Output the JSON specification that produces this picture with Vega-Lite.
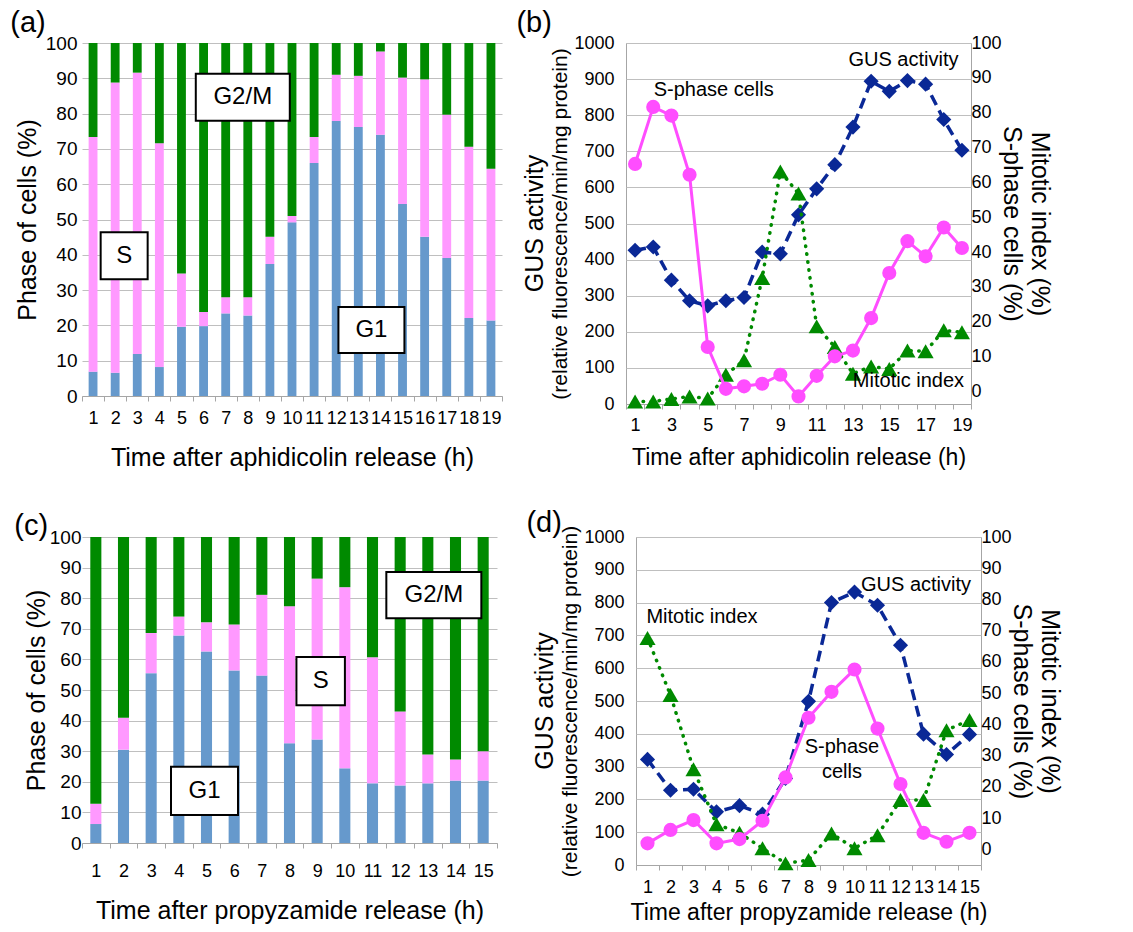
{
"$schema": "https://vega.github.io/schema/vega-lite/v6.json",
"padding": {"left": 10, "top": 8, "right": 5, "bottom": 5},
"config": {
  "font": "Liberation Sans",
  "view": {"stroke": null},
  "axis": {"labelFont": "Liberation Sans", "titleFont": "Liberation Sans", "labelColor": "black", "titleColor": "black", "titleFontWeight": "normal", "gridColor": "#BFBFBF", "domainColor": "#A6A6A6", "tickColor": "#A6A6A6"},
  "title": {"font": "Liberation Sans", "fontWeight": "normal", "color": "black"},
  "text": {"font": "Liberation Sans"}
},
"vconcat": [
 {"hconcat": [
  {
   "title": {"text": "(a)", "anchor": "start", "frame": "bounds", "fontSize": 29, "offset": 0, "dy": 4, "dx": -5},
   "width": 420, "height": 353,
   "data": {"values": [
    {"hour":1,"phase":"G1","seq":1,"pct":6.9},{"hour":1,"phase":"S","seq":2,"pct":66.5},{"hour":1,"phase":"G2/M","seq":3,"pct":26.6},
    {"hour":2,"phase":"G1","seq":1,"pct":6.6},{"hour":2,"phase":"S","seq":2,"pct":82.2},{"hour":2,"phase":"G2/M","seq":3,"pct":11.2},
    {"hour":3,"phase":"G1","seq":1,"pct":11.9},{"hour":3,"phase":"S","seq":2,"pct":79.7},{"hour":3,"phase":"G2/M","seq":3,"pct":8.4},
    {"hour":4,"phase":"G1","seq":1,"pct":8.2},{"hour":4,"phase":"S","seq":2,"pct":63.4},{"hour":4,"phase":"G2/M","seq":3,"pct":28.4},
    {"hour":5,"phase":"G1","seq":1,"pct":19.6},{"hour":5,"phase":"S","seq":2,"pct":15.1},{"hour":5,"phase":"G2/M","seq":3,"pct":65.3},
    {"hour":6,"phase":"G1","seq":1,"pct":19.8},{"hour":6,"phase":"S","seq":2,"pct":4.0},{"hour":6,"phase":"G2/M","seq":3,"pct":76.2},
    {"hour":7,"phase":"G1","seq":1,"pct":23.4},{"hour":7,"phase":"S","seq":2,"pct":4.6},{"hour":7,"phase":"G2/M","seq":3,"pct":72.0},
    {"hour":8,"phase":"G1","seq":1,"pct":22.8},{"hour":8,"phase":"S","seq":2,"pct":5.2},{"hour":8,"phase":"G2/M","seq":3,"pct":72.0},
    {"hour":9,"phase":"G1","seq":1,"pct":37.4},{"hour":9,"phase":"S","seq":2,"pct":7.7},{"hour":9,"phase":"G2/M","seq":3,"pct":54.9},
    {"hour":10,"phase":"G1","seq":1,"pct":49.2},{"hour":10,"phase":"S","seq":2,"pct":1.8},{"hour":10,"phase":"G2/M","seq":3,"pct":49.0},
    {"hour":11,"phase":"G1","seq":1,"pct":66.0},{"hour":11,"phase":"S","seq":2,"pct":7.4},{"hour":11,"phase":"G2/M","seq":3,"pct":26.6},
    {"hour":12,"phase":"G1","seq":1,"pct":77.9},{"hour":12,"phase":"S","seq":2,"pct":13.1},{"hour":12,"phase":"G2/M","seq":3,"pct":9.0},
    {"hour":13,"phase":"G1","seq":1,"pct":76.2},{"hour":13,"phase":"S","seq":2,"pct":14.5},{"hour":13,"phase":"G2/M","seq":3,"pct":9.3},
    {"hour":14,"phase":"G1","seq":1,"pct":74.0},{"hour":14,"phase":"S","seq":2,"pct":23.6},{"hour":14,"phase":"G2/M","seq":3,"pct":2.4},
    {"hour":15,"phase":"G1","seq":1,"pct":54.4},{"hour":15,"phase":"S","seq":2,"pct":35.8},{"hour":15,"phase":"G2/M","seq":3,"pct":9.8},
    {"hour":16,"phase":"G1","seq":1,"pct":45.1},{"hour":16,"phase":"S","seq":2,"pct":44.6},{"hour":16,"phase":"G2/M","seq":3,"pct":10.3},
    {"hour":17,"phase":"G1","seq":1,"pct":39.1},{"hour":17,"phase":"S","seq":2,"pct":40.6},{"hour":17,"phase":"G2/M","seq":3,"pct":20.3},
    {"hour":18,"phase":"G1","seq":1,"pct":22.1},{"hour":18,"phase":"S","seq":2,"pct":48.5},{"hour":18,"phase":"G2/M","seq":3,"pct":29.4},
    {"hour":19,"phase":"G1","seq":1,"pct":21.4},{"hour":19,"phase":"S","seq":2,"pct":43.0},{"hour":19,"phase":"G2/M","seq":3,"pct":35.6}
   ]},
   "encoding": {
    "x": {"field": "hour", "type": "ordinal", "scale": {"type": "band", "paddingInner": 0, "paddingOuter": 0, "domain": [1,2,3,4,5,6,7,8,9,10,11,12,13,14,15,16,17,18,19]},
          "axis": {"title": "Time after aphidicolin release (h)", "titleFontSize": 25, "labelFontSize": 18, "labelAngle": 0, "tickBand": "extent", "tickSize": 5, "labelPadding": 8, "titlePadding": 18, "grid": false}}
   },
   "layer": [
    {"mark": {"type": "bar", "width": {"band": 0.4}},
     "encoding": {
      "y": {"field": "pct", "type": "quantitative", "stack": "zero", "scale": {"domain": [0, 100], "nice": false},
            "axis": {"title": "Phase of cells (%)", "values": [0,10,20,30,40,50,60,70,80,90,100], "titleFontSize": 25, "labelFontSize": 19, "ticks": false, "domain": false, "labelPadding": 5, "titlePadding": 5, "grid": true}},
      "color": {"field": "phase", "type": "nominal", "scale": {"domain": ["G1", "S", "G2/M"], "range": ["#6699CC", "#FF99FF", "#008A00"]}, "legend": null},
      "order": {"field": "seq", "type": "quantitative", "sort": "ascending"}
     }},
    {"data": {"values": [{"label": "G2/M", "hour": 8, "pct": 84.6}]},
     "layer": [
      {"mark": {"type": "point", "shape": "M-1,-0.5H1V0.5H-1Z", "size": 8836, "filled": true, "fill": "white", "opacity": 1, "stroke": "black", "strokeWidth": 2, "xOffset": -5}},
      {"mark": {"type": "text", "fontSize": 24, "xOffset": -5}, "encoding": {"text": {"field": "label"}}}
     ],
     "encoding": {"x": {"field": "hour", "type": "ordinal", "bandPosition": 0.5}, "y": {"field": "pct", "type": "quantitative",
       "axis": {"title": "Phase of cells (%)", "values": [0,10,20,30,40,50,60,70,80,90,100], "titleFontSize": 25, "labelFontSize": 19, "ticks": false, "domain": false, "labelPadding": 5, "titlePadding": 5, "grid": true}}}},
    {"data": {"values": [{"label": "S", "hour": 2, "pct": 39.7}]},
     "layer": [
      {"mark": {"type": "point", "shape": "square", "size": 2209, "filled": true, "fill": "white", "opacity": 1, "stroke": "black", "strokeWidth": 2, "xOffset": 9}},
      {"mark": {"type": "text", "fontSize": 24, "xOffset": 9}, "encoding": {"text": {"field": "label"}}}
     ],
     "encoding": {"x": {"field": "hour", "type": "ordinal", "bandPosition": 0.5}, "y": {"field": "pct", "type": "quantitative",
       "axis": {"title": "Phase of cells (%)", "values": [0,10,20,30,40,50,60,70,80,90,100], "titleFontSize": 25, "labelFontSize": 19, "ticks": false, "domain": false, "labelPadding": 5, "titlePadding": 5, "grid": true}}}},
    {"data": {"values": [{"label": "G1", "hour": 14, "pct": 18.7}]},
     "layer": [
      {"mark": {"type": "point", "shape": "M-1,-0.7H1V0.7H-1Z", "size": 4356, "filled": true, "fill": "white", "opacity": 1, "stroke": "black", "strokeWidth": 2, "xOffset": -9}},
      {"mark": {"type": "text", "fontSize": 24, "xOffset": -9}, "encoding": {"text": {"field": "label"}}}
     ],
     "encoding": {"x": {"field": "hour", "type": "ordinal", "bandPosition": 0.5}, "y": {"field": "pct", "type": "quantitative",
       "axis": {"title": "Phase of cells (%)", "values": [0,10,20,30,40,50,60,70,80,90,100], "titleFontSize": 25, "labelFontSize": 19, "ticks": false, "domain": false, "labelPadding": 5, "titlePadding": 5, "grid": true}}}}
   ]
  },
  {
   "title": {"text": "(b)", "anchor": "start", "frame": "bounds", "fontSize": 29, "offset": 0, "dy": 4, "dx": -6},
   "vconcat": [{
    "width": 345, "height": 361,
    "title": {"text": "GUS activity", "orient": "left", "fontSize": 25, "offset": 2},
    "view": {"stroke": "#A6A6A6"},
    "data": {"values": [
     {"hour":1,"gus":426,"sphase":66.5,"mitotic":0.7},
     {"hour":2,"gus":435,"sphase":82.3,"mitotic":0.7},
     {"hour":3,"gus":343,"sphase":79.9,"mitotic":1.4},
     {"hour":4,"gus":286,"sphase":63.5,"mitotic":2.1},
     {"hour":5,"gus":272,"sphase":15.8,"mitotic":1.5},
     {"hour":6,"gus":286,"sphase":4.2,"mitotic":8.1},
     {"hour":7,"gus":295,"sphase":4.9,"mitotic":12.1},
     {"hour":8,"gus":421,"sphase":5.6,"mitotic":34.9},
     {"hour":9,"gus":416,"sphase":8.1,"mitotic":64.4},
     {"hour":10,"gus":524,"sphase":2.1,"mitotic":58.3},
     {"hour":11,"gus":596,"sphase":7.8,"mitotic":21.5},
     {"hour":12,"gus":663,"sphase":13.2,"mitotic":15.8},
     {"hour":13,"gus":767,"sphase":14.8,"mitotic":8.4},
     {"hour":14,"gus":894,"sphase":23.8,"mitotic":10.4},
     {"hour":15,"gus":866,"sphase":36.3,"mitotic":9.7},
     {"hour":16,"gus":896,"sphase":45.1,"mitotic":14.8},
     {"hour":17,"gus":886,"sphase":40.9,"mitotic":14.6},
     {"hour":18,"gus":788,"sphase":48.9,"mitotic":20.4},
     {"hour":19,"gus":703,"sphase":43.2,"mitotic":19.9}
    ]},
    "encoding": {
     "x": {"field": "hour", "type": "ordinal", "bandPosition": 0.5, "scale": {"type": "band", "paddingInner": 0, "paddingOuter": 0, "domain": [1,2,3,4,5,6,7,8,9,10,11,12,13,14,15,16,17,18,19]},
           "axis": {"title": "Time after aphidicolin release (h)", "titleFontSize": 23, "labelFontSize": 18, "labelAngle": 0, "tickBand": "extent", "tickSize": 5, "labelPadding": 7, "titlePadding": 12, "grid": false, "labelExpr": "datum.value % 2 == 1 ? datum.label : ''"}}
    },
    "layer": [
     {"layer": [
       {"mark": {"type": "line", "color": "#0A2896", "strokeWidth": 3.5, "strokeDash": [11, 6], "point": {"shape": "diamond", "size": 230, "filled": true, "opacity": 1, "color": "#0A2896"}},
        "encoding": {"y": {"field": "gus", "type": "quantitative", "scale": {"domain": [0, 1000], "nice": false},
          "axis": {"title": "(relative fluorescence/min/mg protein)", "titleFontSize": 21, "labelFontSize": 18, "format": "d", "values": [0,100,200,300,400,500,600,700,800,900,1000], "ticks": false, "domain": false, "labelPadding": 12, "titlePadding": 3, "grid": true}}}},
       {"data": {"values": [{"label": "S-phase cells", "hour": 5, "gus": 870}]},
        "mark": {"type": "text", "fontSize": 20, "xOffset": 6},
        "encoding": {"y": {"field": "gus", "type": "quantitative",
          "axis": {"title": "(relative fluorescence/min/mg protein)", "titleFontSize": 21, "labelFontSize": 18, "format": "d", "values": [0,100,200,300,400,500,600,700,800,900,1000], "ticks": false, "domain": false, "labelPadding": 12, "titlePadding": 3, "grid": true}}, "text": {"field": "label"}}},
       {"data": {"values": [{"label": "GUS activity", "hour": 16, "gus": 953}]},
        "mark": {"type": "text", "fontSize": 20, "xOffset": -4},
        "encoding": {"y": {"field": "gus", "type": "quantitative",
          "axis": {"title": "(relative fluorescence/min/mg protein)", "titleFontSize": 21, "labelFontSize": 18, "format": "d", "values": [0,100,200,300,400,500,600,700,800,900,1000], "ticks": false, "domain": false, "labelPadding": 12, "titlePadding": 3, "grid": true}}, "text": {"field": "label"}}}
     ]},
     {"layer": [
       {"mark": {"type": "line", "color": "#008A00", "strokeWidth": 3.5, "strokeDash": [0.5, 7.5], "strokeCap": "round", "point": {"shape": "triangle-up", "size": 260, "filled": true, "opacity": 1, "color": "#008A00"}},
        "encoding": {"y": {"field": "mitotic", "type": "quantitative", "scale": {"domain": [0, 100], "nice": false}, "axis": null}}},
       {"mark": {"type": "line", "color": "#FF4DFF", "strokeWidth": 3, "point": {"shape": "circle", "size": 200, "filled": true, "opacity": 1, "color": "#FF4DFF"}},
        "encoding": {"y": {"field": "sphase", "type": "quantitative", "scale": {"domain": [0, 100], "nice": false}, "axis": null}}},
       {"data": {"values": [{"label": "Mitotic index", "hour": 16, "mitotic": 6.4}]},
        "mark": {"type": "text", "fontSize": 20, "xOffset": 1},
        "encoding": {"y": {"field": "mitotic", "type": "quantitative", "axis": null}, "text": {"field": "label"}}}
     ]},
     {"mark": {"type": "point", "opacity": 0},
      "encoding": {"y": {"datum": 0, "type": "quantitative", "scale": {"domain": [-3.6, 100], "nice": false, "zero": false},
        "axis": {"orient": "right", "title": ["Mitotic index (%)", "S-phase cells (%)"], "titleFontSize": 25, "titleLineHeight": 28, "labelFontSize": 18, "values": [0,10,20,30,40,50,60,70,80,90,100], "ticks": false, "domain": false, "grid": false, "labelPadding": 0, "titlePadding": -3}}}}
    ],
    "resolve": {"scale": {"y": "independent"}}
   }]
  }
 ], "spacing": 13},
 {"hconcat": [
  {
   "title": {"text": "(c)", "anchor": "start", "frame": "bounds", "fontSize": 29, "offset": 0, "dy": 13, "dx": -10},
   "width": 415, "height": 306,
   "data": {"values": [
    {"hour":1,"phase":"G1","seq":1,"pct":6.2},{"hour":1,"phase":"S","seq":2,"pct":6.6},{"hour":1,"phase":"G2/M","seq":3,"pct":87.2},
    {"hour":2,"phase":"G1","seq":1,"pct":30.5},{"hour":2,"phase":"S","seq":2,"pct":10.4},{"hour":2,"phase":"G2/M","seq":3,"pct":59.1},
    {"hour":3,"phase":"G1","seq":1,"pct":55.5},{"hour":3,"phase":"S","seq":2,"pct":13.1},{"hour":3,"phase":"G2/M","seq":3,"pct":31.4},
    {"hour":4,"phase":"G1","seq":1,"pct":67.8},{"hour":4,"phase":"S","seq":2,"pct":6.2},{"hour":4,"phase":"G2/M","seq":3,"pct":26.0},
    {"hour":5,"phase":"G1","seq":1,"pct":62.6},{"hour":5,"phase":"S","seq":2,"pct":9.5},{"hour":5,"phase":"G2/M","seq":3,"pct":27.9},
    {"hour":6,"phase":"G1","seq":1,"pct":56.4},{"hour":6,"phase":"S","seq":2,"pct":15.0},{"hour":6,"phase":"G2/M","seq":3,"pct":28.6},
    {"hour":7,"phase":"G1","seq":1,"pct":54.7},{"hour":7,"phase":"S","seq":2,"pct":26.4},{"hour":7,"phase":"G2/M","seq":3,"pct":18.9},
    {"hour":8,"phase":"G1","seq":1,"pct":32.6},{"hour":8,"phase":"S","seq":2,"pct":44.8},{"hour":8,"phase":"G2/M","seq":3,"pct":22.6},
    {"hour":9,"phase":"G1","seq":1,"pct":33.8},{"hour":9,"phase":"S","seq":2,"pct":52.6},{"hour":9,"phase":"G2/M","seq":3,"pct":13.6},
    {"hour":10,"phase":"G1","seq":1,"pct":24.4},{"hour":10,"phase":"S","seq":2,"pct":59.2},{"hour":10,"phase":"G2/M","seq":3,"pct":16.4},
    {"hour":11,"phase":"G1","seq":1,"pct":19.5},{"hour":11,"phase":"S","seq":2,"pct":41.2},{"hour":11,"phase":"G2/M","seq":3,"pct":39.3},
    {"hour":12,"phase":"G1","seq":1,"pct":18.8},{"hour":12,"phase":"S","seq":2,"pct":24.2},{"hour":12,"phase":"G2/M","seq":3,"pct":57.0},
    {"hour":13,"phase":"G1","seq":1,"pct":19.5},{"hour":13,"phase":"S","seq":2,"pct":9.4},{"hour":13,"phase":"G2/M","seq":3,"pct":71.1},
    {"hour":14,"phase":"G1","seq":1,"pct":20.4},{"hour":14,"phase":"S","seq":2,"pct":6.9},{"hour":14,"phase":"G2/M","seq":3,"pct":72.7},
    {"hour":15,"phase":"G1","seq":1,"pct":20.4},{"hour":15,"phase":"S","seq":2,"pct":9.6},{"hour":15,"phase":"G2/M","seq":3,"pct":70.0}
   ]},
   "encoding": {
    "x": {"field": "hour", "type": "ordinal", "scale": {"type": "band", "paddingInner": 0, "paddingOuter": 0, "domain": [1,2,3,4,5,6,7,8,9,10,11,12,13,14,15]},
          "axis": {"title": "Time after propyzamide release (h)", "titleFontSize": 25, "labelFontSize": 18, "labelAngle": 0, "tickBand": "extent", "tickSize": 5, "labelPadding": 14, "titlePadding": 18, "grid": false}}
   },
   "layer": [
    {"mark": {"type": "bar", "width": {"band": 0.4}},
     "encoding": {
      "y": {"field": "pct", "type": "quantitative", "stack": "zero", "scale": {"domain": [0, 100], "nice": false},
            "axis": {"title": "Phase of cells (%)", "values": [0,10,20,30,40,50,60,70,80,90,100], "titleFontSize": 25, "labelFontSize": 19, "ticks": false, "domain": false, "labelPadding": 1, "titlePadding": 0, "grid": true}},
      "color": {"field": "phase", "type": "nominal", "scale": {"domain": ["G1", "S", "G2/M"], "range": ["#6699CC", "#FF99FF", "#008A00"]}, "legend": null},
      "order": {"field": "seq", "type": "quantitative", "sort": "ascending"}
     }},
    {"data": {"values": [{"label": "G1", "hour": 5, "pct": 17.0}]},
     "layer": [
      {"mark": {"type": "point", "shape": "M-1,-0.72H1V0.72H-1Z", "size": 4489, "filled": true, "fill": "white", "opacity": 1, "stroke": "black", "strokeWidth": 2, "xOffset": -2}},
      {"mark": {"type": "text", "fontSize": 24, "xOffset": -2}, "encoding": {"text": {"field": "label"}}}
     ],
     "encoding": {"x": {"field": "hour", "type": "ordinal", "bandPosition": 0.5}, "y": {"field": "pct", "type": "quantitative",
       "axis": {"title": "Phase of cells (%)", "values": [0,10,20,30,40,50,60,70,80,90,100], "titleFontSize": 25, "labelFontSize": 19, "ticks": false, "domain": false, "labelPadding": 1, "titlePadding": 0, "grid": true}}}},
    {"data": {"values": [{"label": "S", "hour": 9, "pct": 52.9}]},
     "layer": [
      {"mark": {"type": "point", "shape": "square", "size": 2350, "filled": true, "fill": "white", "opacity": 1, "stroke": "black", "strokeWidth": 2, "xOffset": 3.5}},
      {"mark": {"type": "text", "fontSize": 24, "xOffset": 3.5}, "encoding": {"text": {"field": "label"}}}
     ],
     "encoding": {"x": {"field": "hour", "type": "ordinal", "bandPosition": 0.5}, "y": {"field": "pct", "type": "quantitative",
       "axis": {"title": "Phase of cells (%)", "values": [0,10,20,30,40,50,60,70,80,90,100], "titleFontSize": 25, "labelFontSize": 19, "ticks": false, "domain": false, "labelPadding": 1, "titlePadding": 0, "grid": true}}}},
    {"data": {"values": [{"label": "G2/M", "hour": 13, "pct": 81}]},
     "layer": [
      {"mark": {"type": "point", "shape": "M-1,-0.485H1V0.485H-1Z", "size": 9025, "filled": true, "fill": "white", "opacity": 1, "stroke": "black", "strokeWidth": 2, "xOffset": 6}},
      {"mark": {"type": "text", "fontSize": 24, "xOffset": 6}, "encoding": {"text": {"field": "label"}}}
     ],
     "encoding": {"x": {"field": "hour", "type": "ordinal", "bandPosition": 0.5}, "y": {"field": "pct", "type": "quantitative",
       "axis": {"title": "Phase of cells (%)", "values": [0,10,20,30,40,50,60,70,80,90,100], "titleFontSize": 25, "labelFontSize": 19, "ticks": false, "domain": false, "labelPadding": 1, "titlePadding": 0, "grid": true}}}}
   ]
  },
  {
   "title": {"text": "(d)", "anchor": "start", "frame": "bounds", "fontSize": 29, "offset": 0, "dy": 13, "dx": -6},
   "vconcat": [{
    "width": 345, "height": 328,
    "title": {"text": "GUS activity", "orient": "left", "fontSize": 25, "offset": 2},
    "view": {"stroke": "#A6A6A6"},
    "data": {"values": [
     {"hour":1,"gus":322,"sphase":6.6,"mitotic":69.2},
     {"hour":2,"gus":228,"sphase":10.7,"mitotic":51.8},
     {"hour":3,"gus":231,"sphase":13.7,"mitotic":29.2},
     {"hour":4,"gus":162,"sphase":6.6,"mitotic":12.4},
     {"hour":5,"gus":181,"sphase":7.9,"mitotic":9.8},
     {"hour":6,"gus":155,"sphase":13.5,"mitotic":5.1},
     {"hour":7,"gus":264,"sphase":26.7,"mitotic":0.5},
     {"hour":8,"gus":499,"sphase":44.9,"mitotic":1.5},
     {"hour":9,"gus":800,"sphase":52.8,"mitotic":9.6},
     {"hour":10,"gus":832,"sphase":59.6,"mitotic":5.1},
     {"hour":11,"gus":792,"sphase":41.6,"mitotic":9.1},
     {"hour":12,"gus":670,"sphase":24.7,"mitotic":19.8},
     {"hour":13,"gus":399,"sphase":9.8,"mitotic":19.8},
     {"hour":14,"gus":337,"sphase":7.1,"mitotic":41.1},
     {"hour":15,"gus":398,"sphase":9.8,"mitotic":44.2}
    ]},
    "encoding": {
     "x": {"field": "hour", "type": "ordinal", "bandPosition": 0.5, "scale": {"type": "band", "paddingInner": 0, "paddingOuter": 0, "domain": [1,2,3,4,5,6,7,8,9,10,11,12,13,14,15]},
           "axis": {"title": "Time after propyzamide release (h)", "titleFontSize": 23, "labelFontSize": 18, "labelAngle": 0, "tickBand": "extent", "tickSize": 5, "labelPadding": 8, "titlePadding": 5, "grid": false}}
    },
    "layer": [
     {"layer": [
       {"mark": {"type": "line", "color": "#0A2896", "strokeWidth": 3.5, "strokeDash": [11, 6], "point": {"shape": "diamond", "size": 230, "filled": true, "opacity": 1, "color": "#0A2896"}},
        "encoding": {"y": {"field": "gus", "type": "quantitative", "scale": {"domain": [0, 1000], "nice": false},
          "axis": {"title": "(relative fluorescence/min/mg protein)", "titleFontSize": 21, "labelFontSize": 18, "format": "d", "values": [0,100,200,300,400,500,600,700,800,900,1000], "ticks": false, "domain": false, "labelPadding": 12, "titlePadding": 3, "grid": true}}}},
       {"data": {"values": [{"label": "Mitotic index", "hour": 3, "gus": 756}]},
        "mark": {"type": "text", "fontSize": 20, "xOffset": 8.5},
        "encoding": {"y": {"field": "gus", "type": "quantitative",
          "axis": {"title": "(relative fluorescence/min/mg protein)", "titleFontSize": 21, "labelFontSize": 18, "format": "d", "values": [0,100,200,300,400,500,600,700,800,900,1000], "ticks": false, "domain": false, "labelPadding": 12, "titlePadding": 3, "grid": true}}, "text": {"field": "label"}}},
       {"data": {"values": [{"label": "GUS activity", "hour": 13, "gus": 854}]},
        "mark": {"type": "text", "fontSize": 20, "xOffset": -7.5},
        "encoding": {"y": {"field": "gus", "type": "quantitative",
          "axis": {"title": "(relative fluorescence/min/mg protein)", "titleFontSize": 21, "labelFontSize": 18, "format": "d", "values": [0,100,200,300,400,500,600,700,800,900,1000], "ticks": false, "domain": false, "labelPadding": 12, "titlePadding": 3, "grid": true}}, "text": {"field": "label"}}}
     ]},
     {"layer": [
       {"mark": {"type": "line", "color": "#008A00", "strokeWidth": 3.5, "strokeDash": [0.5, 7.5], "strokeCap": "round", "point": {"shape": "triangle-up", "size": 260, "filled": true, "opacity": 1, "color": "#008A00"}},
        "encoding": {"y": {"field": "mitotic", "type": "quantitative", "scale": {"domain": [0, 100], "nice": false}, "axis": null}}},
       {"mark": {"type": "line", "color": "#FF4DFF", "strokeWidth": 3, "point": {"shape": "circle", "size": 200, "filled": true, "opacity": 1, "color": "#FF4DFF"}},
        "encoding": {"y": {"field": "sphase", "type": "quantitative", "scale": {"domain": [0, 100], "nice": false}, "axis": null}}},
       {"data": {"values": [{"label": ["S-phase", "cells"], "hour": 10, "sphase": 36}]},
        "mark": {"type": "text", "fontSize": 20, "xOffset": -12.5, "lineHeight": 25},
        "encoding": {"y": {"field": "sphase", "type": "quantitative", "axis": null}, "text": {"field": "label"}}}
     ]},
     {"mark": {"type": "point", "opacity": 0},
      "encoding": {"y": {"datum": 0, "type": "quantitative", "scale": {"domain": [-5, 100], "nice": false, "zero": false},
        "axis": {"orient": "right", "title": ["Mitotic index (%)", "S-phase cells (%)"], "titleFontSize": 25, "titleLineHeight": 28, "labelFontSize": 18, "values": [0,10,20,30,40,50,60,70,80,90,100], "ticks": false, "domain": false, "grid": false, "labelPadding": 0, "titlePadding": -3}}}}
    ],
    "resolve": {"scale": {"y": "independent"}}
   }]
  }
 ], "spacing": 28}
],
"spacing": 38
}
